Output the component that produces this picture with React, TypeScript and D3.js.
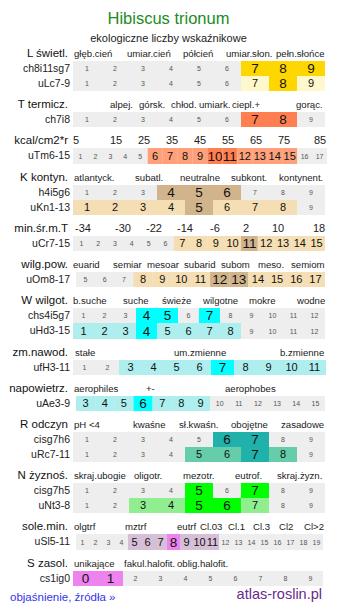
import React from "react";
import * as d3 from "d3";

const W = 337;
const H = 613;
const FONT = "'Liberation Sans', Arial, sans-serif";

// section labels on the left and their header texts
const sectionLabels = [
  "L świetl.", "T termicz.", "kcal/cm2*r", "K kontyn.", "min.śr.m.T", "wilg.pow.",
  "W wilgot.", "zm.nawod.", "napowietrz.", "R odczyn", "N żyznoś.", "sole.min.", "S zasol.",
];
const headerTexts = [
  ["głęb.cień", "umiar.cień", "półcień", "umiar.słon.", "pełn.słońce"],
  ["alpej.", "górsk.", "chłod.", "umiark.", "ciepl.+", "gorąc."],
  ["5", "15", "25", "35", "45", "55", "65", "75", "85"],
  ["atlantyck.", "subatl.", "neutralne", "subkont.", "kontynent."],
  ["-34", "-30", "-22", "-14", "-6", "2", "10", "18"],
  ["euarid", "semiar", "mesoar", "subarid", "subom", "meso.", "semiom"],
  ["b.suche", "suche", "świeże", "wilgotne", "mokre", "wodne"],
  ["stałe", "um.zmienne", "b.zmienne"],
  ["aerophiles", "+-", "aerophobes"],
  ["pH <4", "kwaśne", "sł.kwaśn.", "obojętne", "zasadowe"],
  ["skraj.ubogie", "oligotr.", "mezotr.", "eutrof.", "skraj.żyzn."],
  ["olgtrf", "mztrf", "eutrf", "Cl.03", "Cl.1", "Cl.3", "Cl2", "Cl>2"],
  ["unikające", "fakul.halofit.", "oblig.halofit."],
];

// rows of indicator cells
const rowNames = [
  "ch8i11sg7", "uLc7-9", "ch7i8", "uTm6-15", "h4i5g6", "uKn1-13", "uCr7-15", "uOm8-17",
  "chs4i5g7", "uHd3-15", "ufH3-11", "uAe3-9", "cisg7h6", "uRc7-11", "cisg7h5", "uNt3-8",
  "uSl5-11", "cs1ig0",
];
const rowSection = [0, 0, 1, 2, 3, 3, 4, 5, 6, 6, 7, 8, 9, 9, 10, 10, 11, 12];
const rowFirst = [1, 1, 1, 1, 1, 1, 1, 5, 1, 1, 1, 3, 1, 1, 1, 1, 1, 0];
const rowLast = [9, 9, 9, 17, 9, 9, 15, 17, 12, 12, 11, 15, 9, 9, 9, 9, 19, 9];
const rowStrong = [
  [7, 8, 9], [8], [7, 8], [10, 11], [4, 5, 6], [5], [11], [12, 13],
  [4, 5, 7], [4], [7], [6], [6, 7], [7], [5, 7], [5, 6], [8], [0, 1],
];
const rowLight = [
  [], [7, 9], [], [6, 7, 8, 9, 12, 13, 14, 15], [], [1, 2, 3, 4, 6, 7, 8],
  [7, 8, 9, 10, 12, 13, 14, 15], [8, 9, 10, 11, 14, 15, 16, 17], [], [1, 2, 3, 5, 6, 7, 8],
  [3, 4, 5, 6, 8, 9, 10, 11], [3, 4, 5, 7, 8, 9], [], [5, 6, 8], [], [3, 4, 7],
  [5, 6, 7, 9, 10, 11], [],
];

const strongColors = ["#ffd700", "#ff7f50", "#ff7f50", "#d2b48c", "#d2b48c", "#d2b48c", "#00ffff", "#00ffff", "#00ffff", "#20b2aa", "#00ff00", "#ee82ee", "#ee82ee"];
const lightColors = ["#fff8cc", "#ffa07a", "#ffa07a", "#f5deb3", "#f5deb3", "#f5deb3", "#afeeee", "#afeeee", "#afeeee", "#66cdaa", "#90ee90", "#d8bfd8", "#d8bfd8"];

// layout: header label x anchors (start), bar extents
const headerX = [
  [74, 127, 183, 226, 276],
  [110, 139, 171, 199, 232, 296],
  [73, 110, 138, 166, 194, 222, 250, 278, 314],
  [74, 135, 180, 231, 279],
  [75, 115, 146, 177, 210, 243, 272, 313],
  [73, 113, 147, 184, 221, 258, 291],
  [73, 123, 162, 203, 249, 297],
  [75, 174, 280],
  [74, 146, 225],
  [74, 133, 179, 231, 281],
  [74, 134, 183, 235, 277],
  [74, 125, 177, 200, 228, 253, 279, 304],
  [74, 124, 177],
];
const numericHeaders = [2, 4];
const barLeft: Record<string, number> = { "uOm8-17": 76, "uAe3-9": 76, "uSl5-11": 76 };
const barRight: Record<string, number> = { "uTm6-15": 327, "ufH3-11": 326, "uSl5-11": 323, "cs1ig0": 323 };

const ROW_H = 15.15;
const GAP = 17;
const HEAD_OFF = 4;

export default function App() {
  // vertical layout
  const headY: number[] = [];
  const rowY: number[] = [];
  let y = 57;
  sectionLabels.forEach((_, s) => {
    headY.push(y);
    let top = y + HEAD_OFF;
    rowNames.forEach((_, r) => {
      if (rowSection[r] === s) {
        rowY[r] = top;
        top += ROW_H;
      }
    });
    y = top + GAP;
  });

  return (
    <svg width={W} height={H} style={{ position: "absolute", left: 0, top: 0, fontFamily: FONT }}>
      <rect width={W} height={H} fill="#fff" />
      <text x={W / 2} y={24} textAnchor="middle" fontSize={16.5} fill="#228b22">Hibiscus trionum</text>
      <text x={W / 2} y={42} textAnchor="middle" fontSize={11} fill="#222">ekologiczne liczby wskaźnikowe</text>

      {sectionLabels.map((lab, s) => (
        <g key={"s" + s}>
          <text x={68} y={headY[s]} textAnchor="end" fontSize={11.5} fill="#111">{lab}</text>
          {headerTexts[s].map((t, i) => (
            <text key={i} x={headerX[s][i]} y={headY[s]} fontSize={numericHeaders.includes(s) ? 11 : 9.6} fill="#222">{t}</text>
          ))}
        </g>
      ))}

      {rowNames.map((name, r) => {
        const s = rowSection[r];
        const cells = d3.range(rowFirst[r], rowLast[r] + 1);
        const x = d3.scaleBand<number>()
          .domain(cells)
          .range([barLeft[name] ?? 73, barRight[name] ?? 325]);
        const top = Math.round(rowY[r]);
        const bottom = Math.round(rowY[r] + ROW_H);
        const h = bottom - top;
        return (
          <g key={name}>
            <text x={70} y={top + 11} textAnchor="end" fontSize={10.5} fill="#222">{name}</text>
            <rect x={x.range()[0]} y={top} width={x.range()[1] - x.range()[0]} height={h} fill="#eeeeee" />
            {cells.map((c) => {
              const strong = rowStrong[r].includes(c);
              const light = rowLight[r].includes(c);
              const fill = strong ? strongColors[s] : light ? lightColors[s] : null;
              const fs = strong ? 13.5 : light ? 11 : 7;
              return (
                <g key={c}>
                  {fill && <rect x={x(c)} y={top} width={x.bandwidth()} height={h} fill={fill} />}
                  <text
                    x={(x(c) ?? 0) + x.bandwidth() / 2}
                    y={top + h / 2 + fs * 0.36}
                    textAnchor="middle"
                    fontSize={fs}
                    fill={fill ? "#111" : "#555"}
                  >{c}</text>
                </g>
              );
            })}
          </g>
        );
      })}

      <text x={10} y={601} fontSize={11.5} fill="#3333ee">objaśnienie, źródła »</text>
      <text x={322} y={599} textAnchor="end" fontSize={14.5} fill="#6a2a8a">atlas-roslin.pl</text>
    </svg>
  );
}
